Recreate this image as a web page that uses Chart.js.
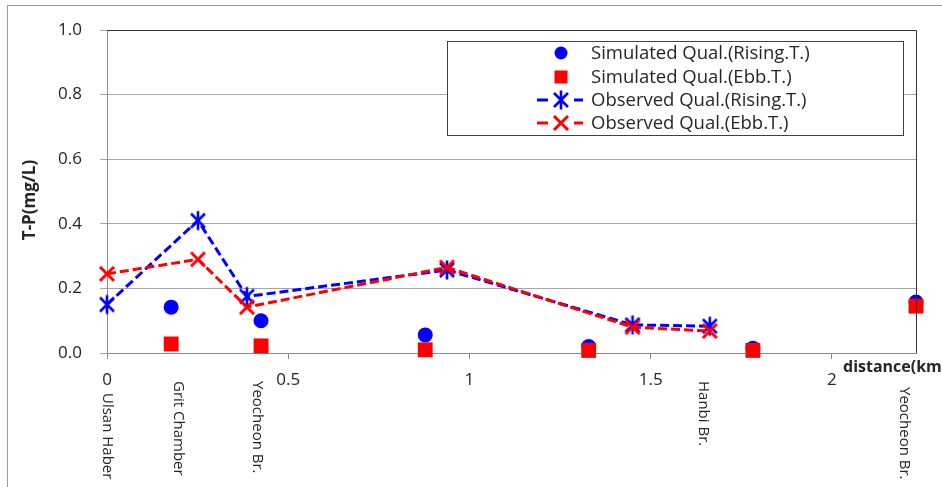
<!DOCTYPE html>
<html>
<head>
<meta charset="utf-8">
<script src="https://cdn.jsdelivr.net/npm/chart.js@4.4.1/dist/chart.umd.min.js"></script>
<style>
  html, body { margin: 0; padding: 0; background: #fff; }
  #wrap { width: 942px; height: 487px; }
</style>
</head>
<body>
<div id="wrap"><canvas id="tpChart" width="942" height="487"></canvas></div>
<script>
// Observed stations (km) and T-P values
const obsKm = [0, 0.251, 0.386, 0.938, 1.45, 1.663];
const obsRising = [0.15, 0.41, 0.175, 0.257, 0.087, 0.083];
const obsEbb = [0.245, 0.29, 0.142, 0.265, 0.08, 0.068];

// Simulated values
const simKm = [0.177, 0.425, 0.878, 1.329, 1.782, 2.232];
const simRising = [0.142, 0.1, 0.056, 0.02, 0.015, 0.158];
const simEbb = [0.028, 0.022, 0.01, 0.008, 0.008, 0.145];

// Station names along the river
const stationNames = ['Ulsan Haber', 'Grit Chamber', 'Yeocheon Br.', 'Hanbi Br.', 'Yeocheon Br.'];
const stationKm = [0, 0.196, 0.415, 1.646, 2.2];

const seriesNames = [
    'Simulated Qual.(Rising.T.)', 'Simulated Qual.(Ebb.T.)',
    'Observed Qual.(Rising.T.)', 'Observed Qual.(Ebb.T.)'
];

const textColor = '#262626';
const fontFamily = '"Open Sans", "DejaVu Sans", sans-serif';

function toPoints(xs, ys) {
    return xs.map((x, i) => ({ x: x, y: ys[i] }));
}

// asterisk marker (X + vertical stroke), like the spreadsheet star
function makeStar(color) {
    const c = document.createElement('canvas');
    c.width = 22; c.height = 22;
    const g = c.getContext('2d');
    g.strokeStyle = color; g.lineWidth = 2.6; g.lineCap = 'butt';
    g.beginPath();
    g.moveTo(4, 4); g.lineTo(18, 18);
    g.moveTo(18, 4); g.lineTo(4, 18);
    g.moveTo(11, 1.5); g.lineTo(11, 20.5);
    g.stroke();
    return c;
}
function makeCross(color) {
    const c = document.createElement('canvas');
    c.width = 20; c.height = 20;
    const g = c.getContext('2d');
    g.strokeStyle = color; g.lineWidth = 3;
    g.beginPath();
    g.moveTo(3, 3); g.lineTo(17, 17);
    g.moveTo(17, 3); g.lineTo(3, 17);
    g.stroke();
    return c;
}

const blueStar = makeStar('#0000ff');
const redCross = makeCross('#ff0000');

const decorPlugin = {
    id: 'decor',
    afterDraw(chart) {
        const ctx = chart.ctx;
        const area = chart.chartArea;
        const xs = chart.scales.x;
        ctx.save();

        // outer frame
        ctx.strokeStyle = '#a0a0a0';
        ctx.lineWidth = 1;
        ctx.strokeRect(7.5, 5.5, 1000, 1000);

        // top and right border of plot area
        ctx.strokeStyle = '#333';
        ctx.beginPath();
        ctx.moveTo(area.left, area.top + 0.5);
        ctx.lineTo(area.right + 0.5, area.top + 0.5);
        ctx.lineTo(area.right + 0.5, area.bottom);
        ctx.stroke();

        // y axis title
        ctx.fillStyle = textColor;
        ctx.font = 'bold 17px ' + fontFamily;
        ctx.textAlign = 'center';
        ctx.textBaseline = 'middle';
        ctx.save();
        ctx.translate(30, 200);
        ctx.rotate(-Math.PI / 2);
        ctx.fillText('T-P(mg/L)', 0, 0);
        ctx.restore();

        // station names, rotated
        ctx.font = '15px ' + fontFamily;
        ctx.textAlign = 'left';
        ctx.textBaseline = 'middle';
        stationNames.forEach((name, i) => {
            const px = xs.getPixelForValue(stationKm[i]);
            const top = stationKm[i] === 0 ? 393 : (i === stationNames.length - 1 ? 387 : 381);
            ctx.save();
            ctx.translate(px, top);
            ctx.rotate(Math.PI / 2);
            ctx.fillText(name, 0, 0);
            ctx.restore();
        });

        // axis caption
        ctx.font = 'bold 16px ' + fontFamily;
        ctx.textBaseline = 'middle';
        ctx.fillText('distance(km)', 843, 367);

        // legend box
        const bx = 447, by = 41, bw = 456, bh = 94;
        ctx.fillStyle = '#fff';
        ctx.fillRect(bx, by, bw, bh);
        ctx.strokeStyle = '#404040';
        ctx.strokeRect(bx + 0.5, by + 0.5, bw, bh);

        const rowY = [53, 77, 100, 123];
        chart.data.datasets.forEach((ds, i) => {
            const y = rowY[i];
            const mx = 561;
            if (ds.showLine) {
                ctx.strokeStyle = ds.borderColor;
                ctx.lineWidth = 3;
                ctx.setLineDash([]);
                ctx.beginPath();
                ctx.moveTo(537, y); ctx.lineTo(548, y);
                ctx.moveTo(574, y); ctx.lineTo(583, y);
                ctx.stroke();
            }
            const style = ds.pointStyle;
            if (style instanceof HTMLCanvasElement) {
                ctx.drawImage(style, mx - style.width / 2, y - style.height / 2);
            } else if (style === 'rect') {
                ctx.fillStyle = ds.pointBackgroundColor;
                ctx.fillRect(mx - 6.5, y - 6.5, 13, 13);
            } else {
                ctx.fillStyle = ds.pointBackgroundColor;
                ctx.beginPath();
                ctx.arc(mx, y, 6.5, 0, Math.PI * 2);
                ctx.fill();
            }
            ctx.fillStyle = textColor;
            ctx.font = '18.5px ' + fontFamily;
            ctx.textAlign = 'left';
            ctx.textBaseline = 'middle';
            ctx.fillText(ds.label, 591, y + 1);
        });
        ctx.restore();
    }
};

const ctx = document.getElementById('tpChart').getContext('2d');
const tpChart = new Chart(ctx, {
    type: 'scatter',
    data: {
        datasets: [{
            label: seriesNames[0],
            data: toPoints(simKm, simRising),
            pointStyle: 'circle',
            pointRadius: 7.5,
            pointBackgroundColor: '#0000ff',
            pointBorderWidth: 0,
            borderColor: '#0000ff',
            showLine: false,
            clip: false,
            order: 4
        }, {
            label: seriesNames[1],
            data: toPoints(simKm, simEbb),
            pointStyle: 'rect',
            pointRadius: 10.5,
            pointBackgroundColor: '#ff0000',
            pointBorderWidth: 0,
            borderColor: '#ff0000',
            showLine: false,
            clip: false,
            order: 3
        }, {
            label: seriesNames[2],
            data: toPoints(obsKm, obsRising),
            pointStyle: blueStar,
            borderColor: '#0000ff',
            borderWidth: 3,
            borderDash: [9, 4],
            showLine: true,
            clip: false,
            order: 2
        }, {
            label: seriesNames[3],
            data: toPoints(obsKm, obsEbb),
            pointStyle: redCross,
            borderColor: '#ff0000',
            borderWidth: 3,
            borderDash: [9, 4],
            showLine: true,
            clip: false,
            order: 1
        }]
    },
    options: {
        responsive: false,
        animation: false,
        layout: { padding: { left: 0, top: 30, right: 26, bottom: 0 } },
        plugins: {
            legend: { display: false },
            tooltip: { enabled: false }
        },
        scales: {
            x: {
                type: 'linear',
                min: 0,
                max: 2.232,
                afterFit: function(scale) { scale.height = 134; },
                ticks: {
                    stepSize: 0.5,
                    includeBounds: false,
                    color: textColor,
                    font: { family: fontFamily, size: 17 },
                    padding: 11,
                    maxRotation: 0,
                    callback: function(value) { return String(value); }
                },
                grid: { drawOnChartArea: false, drawTicks: true, tickLength: 6, color: '#8c8c8c' },
                border: { color: '#8c8c8c' }
            },
            y: {
                min: 0,
                max: 1,
                afterFit: function(scale) { scale.width = 107; },
                ticks: {
                    stepSize: 0.2,
                    color: textColor,
                    font: { family: fontFamily, size: 17 },
                    padding: 18,
                    callback: function(value) { return value.toFixed(1); }
                },
                grid: { color: '#a6a6a6', tickLength: 7 },
                border: { color: '#8c8c8c' }
            }
        }
    },
    plugins: [decorPlugin]
});
</script>
</body>
</html>
